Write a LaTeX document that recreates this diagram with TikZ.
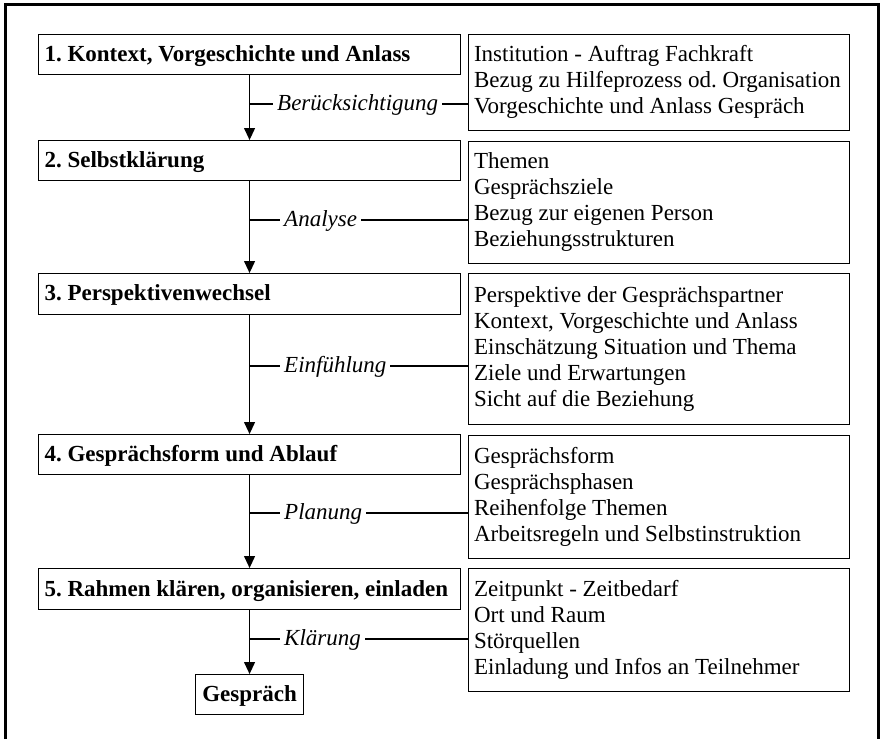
\documentclass[tikz,border=0pt]{standalone}
\usepackage{fontspec}
\setmainfont{Liberation Serif}
\usetikzlibrary{arrows.meta}
\frenchspacing
% one line of a step box, left aligned on a fixed width
\newcommand{\steptext}[1]{\makebox[410pt][l]{\vrule height 20pt depth 6pt width 0pt #1}}
% lines of a detail box, left aligned on a fixed width
\newcommand{\infolines}[1]{\makebox[370pt][l]{\begin{tabular}{@{}l@{}}#1\end{tabular}}}
\begin{document}
\begin{tikzpicture}[x=1pt,y=-1pt,
  stepbox/.style={draw, line width=1.1pt, anchor=north west,
    inner xsep=6pt, inner ysep=0pt, minimum height=40pt,
    font=\fontsize{23}{26}\selectfont\bfseries},
  infobox/.style={draw, line width=1.1pt, anchor=north west,
    inner xsep=5.5pt, inner ysep=0pt,
    font=\fontsize{23}{26}\selectfont},
  endbox/.style={draw, line width=1.1pt, anchor=north west, inner sep=0pt,
    minimum width=108pt, minimum height=40pt,
    font=\fontsize{23}{26}\selectfont\bfseries},
  flow/.style={line width=1.1pt, -{Triangle[length=12pt,width=11pt]}},
  link/.style={line width=1.1pt},
  tag/.style={fill=white, inner xsep=4pt, inner ysep=1pt, anchor=base west,
    font=\fontsize{23}{26}\selectfont\itshape}
]
\useasboundingbox (0,0) rectangle (885,739);

% outer frame (open at the lower edge)
\draw[line width=3.5pt] (5.5,739) -- (5.5,4.5) -- (878.5,4.5) -- (878.5,739);

% process steps
\node[stepbox, minimum height=39.5pt] (b1) at (38,34) {\steptext{1. Kontext, Vorgeschichte und Anlass}};
\node[stepbox] (b2) at (38,140) {\steptext{2. Selbstklärung}};
\node[stepbox, minimum height=40.5pt] (b3) at (38,273) {\steptext{3. Perspektivenwechsel}};
\node[stepbox] (b4) at (38,434) {\steptext{4. Gesprächsform und Ablauf}};
\node[stepbox, minimum height=41pt] (b5) at (38,568) {\steptext{5. Rahmen klären, organisieren, einladen}};
\node[endbox] (g) at (195,674) {\vrule height 20pt depth 6pt width 0pt Gespräch};

% detail boxes
\node[infobox, minimum height=96pt] (r1) at (468,34) {\infolines{%
  Institution - Auftrag Fachkraft\\
  Bezug zu Hilfeprozess od. Organisation\\
  Vorgeschichte und Anlass Gespräch}};
\node[infobox, minimum height=122pt] (r2) at (468,141) {\infolines{%
  Themen\\
  Gesprächsziele\\
  Bezug zur eigenen Person\\
  Beziehungsstrukturen}};
\node[infobox, minimum height=151pt] (r3) at (468,273) {\infolines{%
  Perspektive der Gesprächspartner\\
  Kontext, Vorgeschichte und Anlass\\
  Einschätzung Situation und Thema\\
  Ziele und Erwartungen\\
  Sicht auf die Beziehung}};
\node[infobox, minimum height=123pt] (r4) at (468,435) {\infolines{%
  Gesprächsform\\
  Gesprächsphasen\\
  Reihenfolge Themen\\
  Arbeitsregeln und Selbstinstruktion}};
\node[infobox, minimum height=123pt] (r5) at (468,568) {\infolines{%
  Zeitpunkt - Zeitbedarf\\
  Ort und Raum\\
  Störquellen\\
  Einladung und Infos an Teilnehmer}};

% junctions on the flow line
\coordinate (j1) at (249,104);
\coordinate (j2) at (249,220);
\coordinate (j3) at (249,366);
\coordinate (j4) at (249,513);
\coordinate (j5) at (249,639);

% links from the flow line to the detail boxes
\draw[link] (j1) -- (j1 -| r1.west);
\draw[link] (j2) -- (j2 -| r2.west);
\draw[link] (j3) -- (j3 -| r3.west);
\draw[link] (j4) -- (j4 -| r4.west);
\draw[link] (j5) -- (j5 -| r5.west);

% flow arrows
\draw[flow] (b1.south) -- (b2.north);
\draw[flow] (b2.south) -- (b3.north);
\draw[flow] (b3.south) -- (b4.north);
\draw[flow] (b4.south) -- (b5.north);
\draw[flow] (b5.south) -- (b5.south |- g.north);

% link labels
\node[tag] (t1) at (273,110) {Berücksichtigung};
\node[tag] (t2) at (280,226) {Analyse};
\node[tag] (t3) at (280,372) {Einfühlung};
\node[tag] (t4) at (280,519) {Planung};
\node[tag] (t5) at (280,645) {Klärung};
\end{tikzpicture}
\end{document}
